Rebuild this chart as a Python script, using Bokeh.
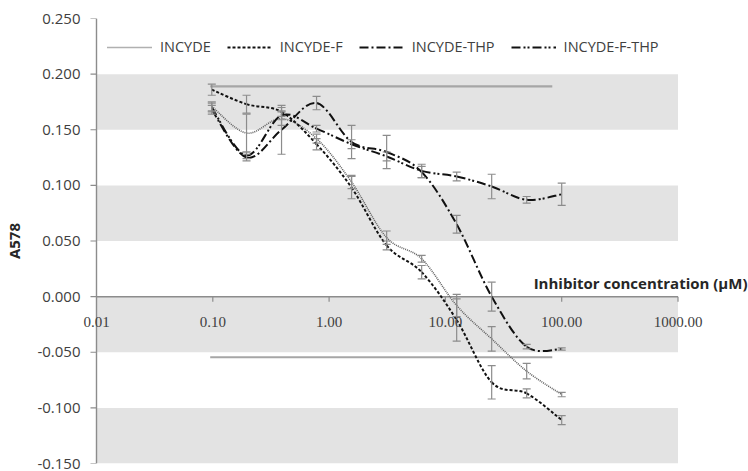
import numpy as np
from bokeh.plotting import figure
from bokeh.models import (Range1d, FixedTicker, PrintfTickFormatter, Legend, LegendItem,
                          ColumnDataSource, LabelSet, Label)
from bokeh.embed import file_html
from bokeh.resources import INLINE

# ---------------- data ----------------
conc = [0.098, 0.195, 0.39, 0.78, 1.56, 3.125, 6.25, 12.5, 25, 50, 100]

incyde = [0.171, 0.147, 0.160, 0.142, 0.103, 0.053, 0.034, -0.008, -0.038, -0.067, -0.088]
incyde_err = [0.004, 0.017, 0.006, 0.004, 0.006, 0.006, 0.003, 0.010, 0.011, 0.007, 0.002]

incyde_f = [0.186, 0.173, 0.166, 0.137, 0.098, 0.046, 0.022, -0.021, -0.077, -0.087, -0.111]
incyde_f_err = [0.005, 0.008, 0.004, 0.005, 0.010, 0.004, 0.006, 0.019, 0.015, 0.004, 0.004]

incyde_thp = [0.168, 0.125, 0.150, 0.174, 0.139, 0.130, 0.112, 0.065, 0.000, -0.045, -0.047]
incyde_thp_err = [0.004, 0.003, 0.022, 0.006, 0.015, 0.015, 0.005, 0.008, 0.013, 0.002, 0.001]

incyde_f_thp = [0.170, 0.127, 0.163, 0.151, 0.137, 0.126, 0.113, 0.108, 0.099, 0.087, 0.092]
incyde_f_thp_err = [0.004, 0.003, 0.004, 0.003, 0.004, 0.004, 0.006, 0.004, 0.011, 0.003, 0.010]

names = ["INCYDE", "INCYDE-F", "INCYDE-THP", "INCYDE-F-THP"]

control_x = [0.095, 83]
pos_control = 0.189
neg_control = -0.0545

y_ticks = [-0.15, -0.10, -0.05, 0.0, 0.05, 0.10, 0.15, 0.20, 0.25]
x_ticks = [0.01, 0.1, 1, 10, 100, 1000]
x_tick_labels = ["0.01", "0.10", "1.00", "10.00", "100.00", "1000.00"]
band_bottoms = [-0.15, -0.05, 0.05, 0.15]
band_tops = [-0.10, 0.00, 0.10, 0.20]

x_title = "Inhibitor concentration (\u00b5M)"
y_title = "A578"

# ---------------- styles ----------------
FONT = "Open Sans"
TXT = "#404040"
AXC = "#8c8c8c"
ERRC = "#8c8c8c"
styles = [
    dict(line_color="#606060", line_width=1.6, line_dash="1 1"),
    dict(line_color="#111111", line_width=2.0, line_dash="3 2"),
    dict(line_color="#111111", line_width=2.0, line_dash="9 3 2 3"),
    dict(line_color="#111111", line_width=2.0, line_dash="9 3 2 2 2 3"),
]
series = [(incyde, incyde_err), (incyde_f, incyde_f_err),
          (incyde_thp, incyde_thp_err), (incyde_f_thp, incyde_f_thp_err)]

W, H = 748, 471
BL, BT, BB = 82, 18, 8
DEC = 116.3          # pixels per decade
PAD = 14             # pixels between frame left and x=0.01
lstart = np.log10(x_ticks[0]) - PAD / DEC
lend = lstart + (W - BL) / DEC
x_start, x_end = 10 ** lstart, 10 ** lend
tick_left = 10 ** (np.log10(x_ticks[0]) - 6 / DEC)

p = figure(width=W, height=H, x_axis_type="log",
           x_range=Range1d(x_start, x_end), y_range=Range1d(y_ticks[0], y_ticks[-1]),
           output_backend="svg", toolbar_location=None,
           min_border_left=BL, min_border_right=0, min_border_top=BT, min_border_bottom=BB)
p.outline_line_color = None
p.grid.visible = False
p.xaxis.visible = False
p.background_fill_color = "white"

# bands
p.quad(left=x_ticks[0], right=x_ticks[-1], bottom=band_bottoms, top=band_tops,
       fill_color="#e3e3e3", line_color=None)

# control lines
p.line(control_x, [pos_control] * 2, line_color="#a6a6a6", line_width=2.2)
p.line(control_x, [neg_control] * 2, line_color="#a6a6a6", line_width=2.2)

# y axis line + ticks at x = 0.01
p.segment(x0=[x_ticks[0]], y0=[y_ticks[0]], x1=[x_ticks[0]], y1=[y_ticks[-1]],
          line_color=AXC, line_width=1.4)
p.segment(x0=[tick_left] * len(y_ticks), y0=y_ticks, x1=[x_ticks[0]] * len(y_ticks), y1=y_ticks,
          line_color=AXC, line_width=1.2)

# x axis at zero
p.segment(x0=[x_ticks[0]], y0=[0], x1=[x_ticks[-1]], y1=[0], line_color=AXC, line_width=1.5)
p.segment(x0=x_ticks[1:], y0=[0] * (len(x_ticks) - 1), x1=x_ticks[1:],
          y1=[-0.0045] * (len(x_ticks) - 1), line_color=AXC, line_width=1.2)
lab_src = ColumnDataSource(dict(x=x_ticks, y=[0] * len(x_ticks), text=x_tick_labels))
p.add_layout(LabelSet(x="x", y="y", text="text", source=lab_src, text_align="center",
                      text_baseline="middle", y_offset=-25, text_font=FONT,
                      text_font_size="15px", text_color=TXT))
p.add_layout(Label(x=x_end, y=0, x_offset=-1, y_offset=14, text=x_title, text_align="right",
                   text_baseline="middle", text_font=FONT, text_font_size="15px",
                   text_font_style="bold", text_color="#262626"))


def smooth_segments(xs, ys):
    lx = np.log10(np.asarray(xs, dtype=float))
    y = np.asarray(ys, dtype=float)
    n = len(lx)
    P = np.column_stack([lx, y])
    Pe = np.vstack([P[0], P, P[-1]])
    out = {k: [] for k in ("x0", "y0", "x1", "y1", "cx0", "cy0", "cx1", "cy1")}
    for i in range(n - 1):
        pm, p0, p1, p2 = Pe[i], Pe[i + 1], Pe[i + 2], Pe[i + 3]
        c0 = p0 + (p1 - pm) / 6.0
        c1 = p1 - (p2 - p0) / 6.0
        out["x0"].append(10 ** p0[0]); out["y0"].append(p0[1])
        out["x1"].append(10 ** p1[0]); out["y1"].append(p1[1])
        out["cx0"].append(10 ** c0[0]); out["cy0"].append(c0[1])
        out["cx1"].append(10 ** c1[0]); out["cy1"].append(c1[1])
    return out


items = []
for name, (vals, errs), st in zip(names, series, styles):
    seg = smooth_segments(conc, vals)
    p.bezier(source=ColumnDataSource(seg), x0="x0", y0="y0", x1="x1", y1="y1",
             cx0="cx0", cy0="cy0", cx1="cx1", cy1="cy1", **st)
    leg_r = p.line(x=[np.nan], y=[np.nan], **st)
    items.append(LegendItem(label=name, renderers=[leg_r]))

# error bars
for vals, errs in series:
    up = [v + e for v, e in zip(vals, errs)]
    lo = [v - e for v, e in zip(vals, errs)]
    p.segment(x0=conc, y0=lo, x1=conc, y1=up, line_color=ERRC, line_width=1.2)
    p.scatter(x=conc + conc, y=up + lo, marker="dash", size=8,
              line_color=ERRC, line_width=1.2)

legend = Legend(items=items, orientation="horizontal", location=(107 - BL, 407),
                glyph_width=45, glyph_height=16, label_standoff=8, spacing=16,
                padding=0, margin=0, border_line_color=None, background_fill_alpha=0,
                label_text_font=FONT, label_text_font_size="14.5px", label_text_color=TXT)
p.add_layout(legend)

# y axis (labels only; line and ticks drawn at x = 0.01)
ya = p.yaxis[0]
ya.ticker = FixedTicker(ticks=y_ticks)
ya.formatter = PrintfTickFormatter(format="%.3f")
ya.minor_tick_line_color = None
ya.major_tick_line_color = None
ya.axis_line_color = None
ya.major_tick_in = 0
ya.major_tick_out = 0
ya.major_label_text_font = FONT
ya.major_label_text_font_size = "15px"
ya.major_label_text_color = TXT
ya.major_label_standoff = 2
ya.axis_label = y_title
ya.axis_label_text_font = FONT
ya.axis_label_text_font_size = "15px"
ya.axis_label_text_font_style = "bold"
ya.axis_label_text_color = "#262626"
ya.axis_label_standoff = 10

open("out.html", "w").write(file_html(p, INLINE))
